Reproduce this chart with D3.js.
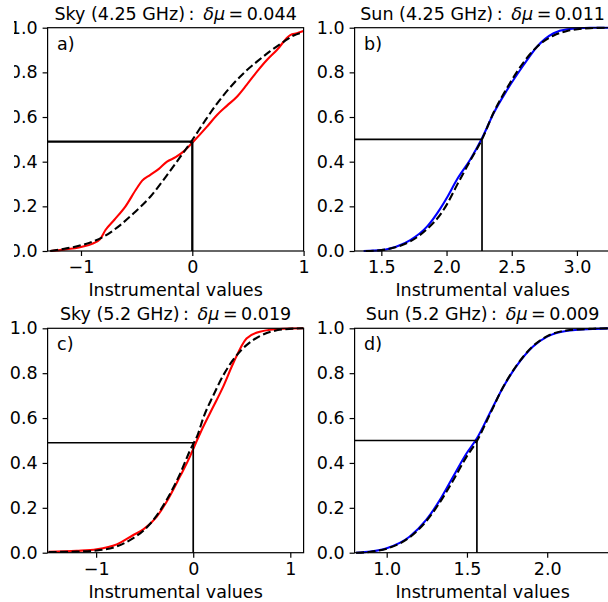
<!DOCTYPE html>
<html>
<head>
<meta charset="utf-8">
<script src="https://cdn.jsdelivr.net/npm/d3@7"></script>
<style>
  html, body { margin: 0; padding: 0; background: #fff; }
  svg { display: block; }
  text { font-family: "DejaVu Sans", sans-serif; fill: #000; }
</style>
</head>
<body>
<svg id="chart" width="608" height="602"></svg>
<script>
// ---------------- data ----------------
const panelTitles = ["Sky (4.25 GHz)", "Sun (4.25 GHz)", "Sky (5.2 GHz)", "Sun (5.2 GHz)"];
const deltaMu = ["0.044", "0.011", "0.019", "0.009"];
const panelLetters = ["a)", "b)", "c)", "d)"];
const xDomains = [[-1.30, 1.0], [1.295, 3.258], [-1.5, 1.137], [0.8, 2.395]];
const xTickValues = [[-1, 0, 1], [1.5, 2.0, 2.5, 3.0], [-1, 0, 1], [1.0, 1.5, 2.0]];
const xTickDecimals = [0, 1, 0, 1];
const yTickValues = [0, 0.2, 0.4, 0.6, 0.8, 1.0];
const medianX = [0.0, 2.272, 0.0, 1.562];
const medianY = [0.49, 0.50, 0.49, 0.50];
const obsColors = ["#ff0000", "#0000ff", "#ff0000", "#0000ff"];

// observed (empirical) CDFs
const obsA = [[-1.276,0],[-1.15,0.006],[-0.99,0.019],[-0.90,0.032],[-0.83,0.052],[-0.78,0.094],[-0.70,0.14],[-0.60,0.20],[-0.50,0.28],[-0.45,0.315],[-0.38,0.34],[-0.30,0.368],[-0.227,0.40],[-0.15,0.42],[-0.08,0.445],[0.0,0.485],[0.132,0.557],[0.222,0.609],[0.31,0.65],[0.401,0.691],[0.49,0.745],[0.581,0.803],[0.67,0.855],[0.76,0.90],[0.88,0.967],[0.94,0.975],[1.0,0.985]];
const obsB = [[1.364,0],[1.5,0.004],[1.646,0.027],[1.722,0.049],[1.85,0.109],[1.952,0.19],[2.004,0.24],[2.08,0.32],[2.182,0.41],[2.272,0.505],[2.361,0.617],[2.464,0.721],[2.591,0.833],[2.694,0.915],[2.821,0.975],[2.924,0.993],[3.1,1.0],[3.258,1.0]];
const obsC = [[-1.49,0.004],[-1.2,0.008],[-0.994,0.015],[-0.788,0.037],[-0.617,0.079],[-0.514,0.104],[-0.377,0.160],[-0.274,0.227],[-0.137,0.339],[-0.034,0.428],[0.01,0.472],[0.103,0.561],[0.206,0.65],[0.309,0.74],[0.412,0.844],[0.549,0.955],[0.686,0.985],[0.926,0.998],[1.137,1.0]];
const obsD = [[0.809,0],[0.9,0.005],[1.0,0.02],[1.142,0.071],[1.246,0.146],[1.329,0.232],[1.411,0.335],[1.495,0.44],[1.564,0.512],[1.64,0.618],[1.723,0.734],[1.807,0.83],[1.91,0.918],[2.0,0.963],[2.118,0.988],[2.284,0.997],[2.395,1.0]];

// fitted (normal) CDFs, dashed
const fitA = [[-1.276,0],[-1.15,0.01],[-0.99,0.027],[-0.797,0.064],[-0.65,0.115],[-0.527,0.169],[-0.377,0.243],[-0.227,0.34],[-0.11,0.42],[0.0,0.497],[0.11,0.58],[0.222,0.66],[0.371,0.75],[0.48,0.805],[0.581,0.848],[0.70,0.895],[0.82,0.937],[0.91,0.965],[1.0,0.98]];
const fitB = [[1.38,0],[1.5,0.004],[1.646,0.024],[1.722,0.043],[1.85,0.098],[1.952,0.163],[2.004,0.21],[2.08,0.295],[2.182,0.405],[2.272,0.5],[2.361,0.62],[2.464,0.73],[2.591,0.845],[2.694,0.915],[2.821,0.965],[2.924,0.985],[3.1,0.998],[3.258,1.0]];
const fitC = [[-1.49,0.003],[-1.2,0.005],[-0.994,0.01],[-0.788,0.028],[-0.617,0.065],[-0.514,0.098],[-0.377,0.165],[-0.274,0.235],[-0.137,0.35],[-0.034,0.455],[0.05,0.53],[0.103,0.6],[0.206,0.7],[0.309,0.79],[0.412,0.86],[0.549,0.925],[0.686,0.965],[0.926,0.995],[1.137,1.0]];
const fitD = [[0.809,0],[0.9,0.004],[1.0,0.018],[1.142,0.068],[1.246,0.14],[1.329,0.222],[1.411,0.318],[1.495,0.425],[1.564,0.5],[1.64,0.612],[1.723,0.735],[1.807,0.832],[1.91,0.92],[2.0,0.965],[2.118,0.99],[2.284,0.998],[2.395,1.0]];

const obsSeries = [obsA, obsB, obsC, obsD];
const fitSeries = [fitA, fitB, fitC, fitD];

// ---------------- layout ----------------
const svg = d3.select("#chart");
const W = 256;
const colX = [47.6, 354.6];
const rowY = [[27.7, 251], [328.3, 552.7]];
const FS = 17.5;

for (let i = 0; i < 4; i++) {
  const col = i % 2, row = Math.floor(i / 2);
  const left = colX[col], right = left + W;
  const top = rowY[row][0], bottom = rowY[row][1];

  const x = d3.scaleLinear().domain(xDomains[i]).range([left, right]);
  const y = d3.scaleLinear().domain([0, 1]).range([bottom, top]);

  const g = svg.append("g");
  const clipId = "clip" + i;
  g.append("clipPath").attr("id", clipId)
    .append("rect").attr("x", left).attr("y", top - 2).attr("width", W).attr("height", bottom - top + 4);

  const line = d3.line().x(d => x(d[0])).y(d => y(d[1])).curve(d3.curveMonotoneX);

  const plot = g.append("g").attr("clip-path", `url(#${clipId})`);
  plot.append("path").datum(obsSeries[i])
    .attr("d", line).attr("fill", "none")
    .attr("stroke", obsColors[i]).attr("stroke-width", 2.1);
  plot.append("path").datum(fitSeries[i])
    .attr("d", line).attr("fill", "none")
    .attr("stroke", "#000").attr("stroke-width", 2.1)
    .attr("stroke-dasharray", "8,3.5");

  // median guide lines
  const lw = i === 0 ? 2.3 : 1.7;
  plot.append("line")
    .attr("x1", x(xDomains[i][0])).attr("x2", x(medianX[i]))
    .attr("y1", y(medianY[i])).attr("y2", y(medianY[i]))
    .attr("stroke", "#000").attr("stroke-width", lw);
  plot.append("line")
    .attr("x1", x(medianX[i])).attr("x2", x(medianX[i]))
    .attr("y1", y(0)).attr("y2", y(medianY[i]))
    .attr("stroke", "#000").attr("stroke-width", lw);

  // axes
  const xAxis = d3.axisBottom(x).tickValues(xTickValues[i]).tickSize(5).tickPadding(5)
    .tickFormat(v => d3.format("." + xTickDecimals[i] + "f")(v).replace("-", "\u2212"));
  const yAxis = d3.axisLeft(y).tickValues(yTickValues).tickSize(5).tickPadding(5)
    .tickFormat(d3.format(".1f"));

  const gx = g.append("g").attr("transform", `translate(0,${bottom})`).call(xAxis);
  const gy = g.append("g").attr("transform", `translate(${left},0)`).call(yAxis);
  [gx, gy].forEach(a => {
    a.select(".domain").remove();
    a.selectAll(".tick line").attr("stroke", "#000").attr("stroke-width", 1.2);
    a.selectAll(".tick text").attr("font-size", FS).attr("font-family", "DejaVu Sans").attr("fill", "#000");
  });

  // frame
  g.append("rect").attr("x", left).attr("y", top).attr("width", W).attr("height", bottom - top)
    .attr("fill", "none").attr("stroke", "#000").attr("stroke-width", 1.2);

  // x label
  g.append("text").attr("x", (left + right) / 2).attr("y", bottom + 45)
    .attr("text-anchor", "middle").attr("font-size", FS).text("Instrumental values");

  // title
  const t = g.append("text").attr("x", (left + right) / 2).attr("y", top - 8)
    .attr("text-anchor", "middle").attr("font-size", FS);
  t.append("tspan").text(panelTitles[i] + "\u2009:\u2002");
  t.append("tspan").attr("font-style", "italic").text("\u03b4\u03bc");
  t.append("tspan").text("\u2009=\u2009" + deltaMu[i]);

  // letter
  g.append("text").attr("x", left + 9.5).attr("y", top + 22).attr("font-size", FS).text(panelLetters[i]);
}

// the reference image is cropped on the left edge of the top row
svg.append("rect").attr("x", 0).attr("y", 0).attr("width", 14).attr("height", 300).attr("fill", "#fff");
</script>
</body>
</html>
